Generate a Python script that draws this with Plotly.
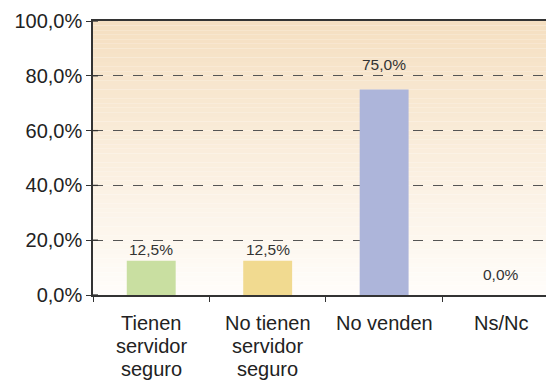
import plotly.graph_objects as go

# Survey answers and their shares (%)
categories = ["Tienen servidor seguro", "No tienen servidor seguro", "No venden", "Ns/Nc"]
category_lines = [["Tienen", "servidor", "seguro"], ["No tienen", "servidor", "seguro"], ["No venden"], ["Ns/Nc"]]
values = [12.5, 12.5, 75.0, 0.0]
bar_colors = ["#c9dfa1", "#f1da90", "#adb5da", "#cccccc"]
label_lift = [1, 1, 15, 10]  # px gap between bar top and its value label
y_tick_values = [0, 20, 40, 60, 80, 100]
y_tick_labels = ["0,0%", "20,0%", "40,0%", "60,0%", "80,0%", "100,0%"]

FONT = "Liberation Sans, Arial, sans-serif"


def pct_label(v):
    return f"{v:.1f}%".replace(".", ",")


fig = go.Figure()
fig.add_trace(go.Bar(
    x=categories,
    y=values,
    marker=dict(color=bar_colors, line=dict(width=0)),
    width=0.42,
    hoverinfo="skip",
))

# Vertical warm gradient behind the plot area, built from thin bands
top_rgb = (245, 223, 193)
bottom_rgb = (255, 253, 250)
n_bands = 60
shapes = []
for i in range(n_bands):
    t = i / (n_bands - 1)
    r, g, b = (round(bottom_rgb[k] + (top_rgb[k] - bottom_rgb[k]) * t) for k in range(3))
    shapes.append(dict(
        type="rect", xref="x domain", yref="y",
        x0=0, x1=1, y0=100 * i / n_bands, y1=100 * (i + 1) / n_bands,
        fillcolor=f"rgb({r},{g},{b})", line=dict(width=0), layer="below",
    ))
# short inner half of the crossing y-axis ticks
for v in y_tick_values:
    shapes.append(dict(
        type="line", xref="x domain", yref="y",
        x0=0, x1=0.011, y0=v, y1=v,
        line=dict(color="#333333", width=1.3),
    ))

annotations = []
# value labels above the bars
for cat, v, lift in zip(categories, values, label_lift):
    annotations.append(dict(
        x=cat, xref="x", y=v, yref="y",
        text=pct_label(v), showarrow=False,
        yanchor="bottom", yshift=lift,
        font=dict(family=FONT, size=15.5, color="#333333"),
    ))
# multi-line category labels under the axis
for cat, lines in zip(categories, category_lines):
    for i, line in enumerate(lines):
        annotations.append(dict(
            x=cat, xref="x", y=0, yref="paper",
            text=line, showarrow=False,
            yanchor="top", yshift=-15 - 23 * i,
            font=dict(family=FONT, size=20, color="#222222"),
        ))

fig.update_layout(
    width=546, height=383,
    margin=dict(l=93, r=0, t=21, b=88),
    paper_bgcolor="white",
    plot_bgcolor="white",
    showlegend=False,
    shapes=shapes,
    annotations=annotations,
    font=dict(family=FONT, color="#222222"),
    xaxis=dict(
        type="category",
        range=[-0.5, 3.39],
        showticklabels=False,
        tickson="boundaries",
        ticks="outside", ticklen=5, tickcolor="#333333", tickwidth=1.3,
        showline=True, linecolor="#333333", linewidth=1.5, mirror=True,
        showgrid=False, zeroline=False,
    ),
    yaxis=dict(
        range=[0, 100],
        tickvals=y_tick_values,
        ticktext=y_tick_labels,
        ticks="outside", ticklen=5, tickcolor="#333333", tickwidth=1.3,
        tickfont=dict(family=FONT, size=20, color="#222222"),
        showline=True, linecolor="#333333", linewidth=1.5,
        showgrid=True, gridcolor="#555555", gridwidth=1.3, griddash="10px,10px",
        zeroline=False,
    ),
)

fig.write_html("out.html")
